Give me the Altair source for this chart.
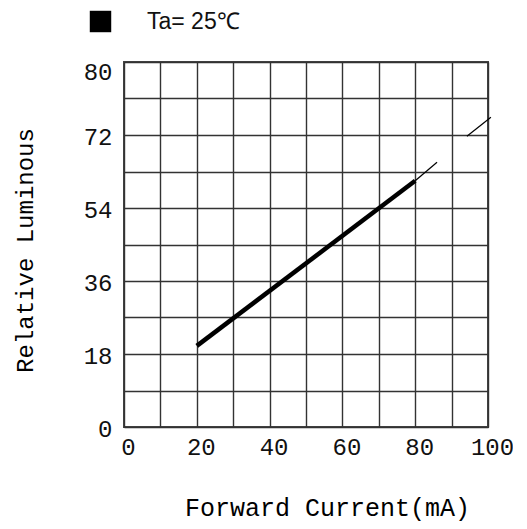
import altair as alt
import pandas as pd

# --- data ---
x_grid = [0, 10, 20, 30, 40, 50, 60, 70, 80, 90, 100]
y_grid = [0, 9, 18, 27, 36, 45, 54, 63, 72, 81, 90]

main_current = [20, 80]
main_lum = [20.0, 60.7]
main_series = ["Ta= 25℃", "Ta= 25℃"]

ext_current = [80, 86, 94.2, 100.8]
ext_lum = [60.7, 65.3, 71.7, 76.4]
ext_seg = ["a", "a", "b", "b"]

main_df = pd.DataFrame({"I": main_current, "L": main_lum, "s": main_series})
ext_df = pd.DataFrame({"I": ext_current, "L": ext_lum, "seg": ext_seg})

MONO = "Liberation Mono"

x_enc = alt.X(
    "I:Q",
    scale=alt.Scale(domain=[0, 100], nice=False),
    axis=alt.Axis(
        values=x_grid,
        labelExpr="datum.value % 20 == 0 ? datum.label : ''",
        title="Forward Current(mA)",
        titleFont=MONO, titleFontSize=25, titleFontWeight="normal",
        titleX=203, titleY=80, titleBaseline="middle", titleAnchor="middle",
        labelFont=MONO, labelFontSize=24, labelPadding=8, labelColor="#111",
        labelOffset=4,
        ticks=False, domain=False, grid=True,
        gridColor="#333", gridWidth=1.4, labelFlush=False, labelOverlap=False,
    ),
)
y_enc = alt.Y(
    "L:Q",
    scale=alt.Scale(domain=[0, 90], nice=False),
    axis=alt.Axis(
        values=y_grid,
        labelExpr="datum.value == 90 ? '80' : (datum.value % 18 == 0 ? datum.label : '')",
        labelOffset={"condition": {"test": "datum.value == 90", "value": 10}, "value": 2},
        title="Relative Luminous",
        titleFont=MONO, titleFontSize=24, titleFontWeight="normal",
        titleX=-99, titleY=188, titleBaseline="middle", titleAngle=-90,
        labelFont=MONO, labelFontSize=24, labelPadding=12, labelColor="#111",
        ticks=False, domain=False, grid=True,
        gridColor="#333", gridWidth=1.4, labelFlush=False, labelOverlap=False,
    ),
)

thick = alt.Chart(main_df).mark_line(strokeWidth=4.5, strokeCap="butt").encode(
    x=x_enc,
    y=y_enc,
    color=alt.Color(
        "s:N",
        scale=alt.Scale(range=["black"]),
        legend=alt.Legend(
            title=None, orient="none", legendX=-35, legendY=-52,
            symbolType="square", symbolFillColor="black", symbolStrokeColor="black",
            symbolSize=460, symbolStrokeWidth=0, labelOffset=35,
            labelFont="Liberation Sans", labelFontSize=23, labelColor="#111",
        ),
    ),
)

thin = alt.Chart(ext_df).mark_line(strokeWidth=1.2, color="black").encode(
    x=x_enc, y=y_enc, detail="seg:N"
)

chart = (
    alt.layer(thick, thin)
    .properties(
        width=364, height=365,
        autosize=alt.AutoSizeParams(type="none"),
        padding={"left": 116, "top": 54, "right": 25, "bottom": 100},
        background="white",
    )
    .configure_view(stroke="#444", strokeWidth=2)
)

chart.save("out.html", embed_options={"renderer": "svg", "actions": False})
